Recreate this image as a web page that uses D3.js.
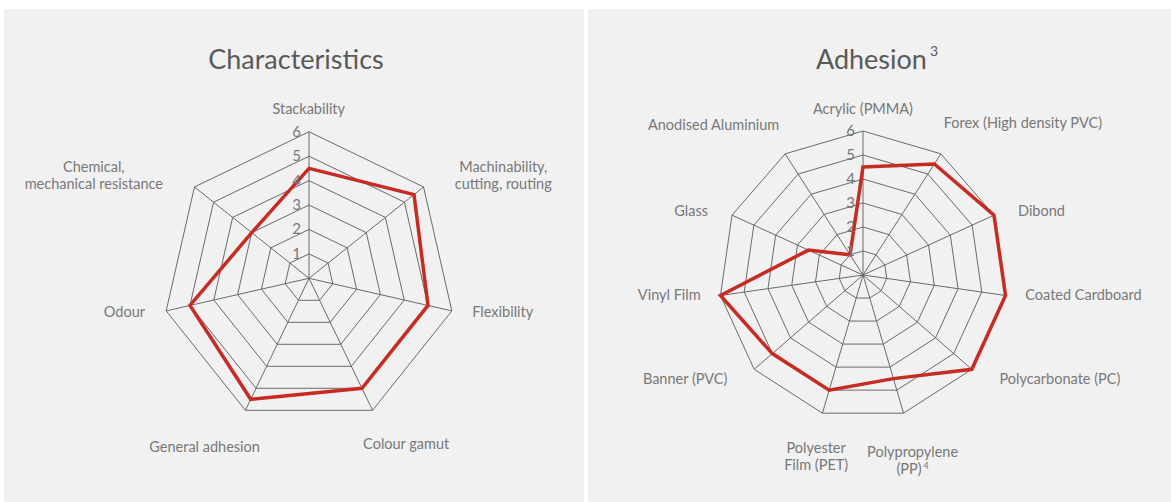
<!DOCTYPE html>
<html>
<head>
<meta charset="utf-8">
<script src="https://cdn.jsdelivr.net/npm/d3@7"></script>
<style>
  html, body { margin: 0; padding: 0; background: #ffffff; }
  svg { display: block; }
  text { font-family: Lato, "Open Sans", sans-serif; font-weight: 400; }
</style>
</head>
<body>
<svg id="chart" width="1171" height="502"></svg>
<script>
// ---------- DATA ----------
const tickValues = [1, 2, 3, 4, 5, 6];

const charTitle = "Characteristics";
const charCategories = [
  "Stackability",
  "Machinability,\ncutting, routing",
  "Flexibility",
  "Colour gamut",
  "General adhesion",
  "Odour",
  "Chemical,\nmechanical resistance"
];
const charValues = [4.5, 5.5, 5, 5, 5.5, 5, 3];

const adhTitle = "Adhesion";
const adhTitleSup = "3";
const adhCategories = [
  "Acrylic (PMMA)",
  "Forex (High density PVC)",
  "Dibond",
  "Coated Cardboard",
  "Polycarbonate (PC)",
  "Polypropylene\n(PP)^4",
  "Polyester\nFilm (PET)",
  "Banner (PVC)",
  "Vinyl Film",
  "Glass",
  "Anodised Aluminium"
];
const adhValues = [4.5, 5.5, 6, 6, 6, 4.5, 5, 5, 6, 2.5, 1];

// ---------- LAYOUT (not data) ----------
const charLabelNudge = [[0, -1], [14, 1.5], [-1, -4.5], [-19, 13.4], [24, 16], [1, -4], [-14, 1.5]];
const adhLabelNudge = [[0, -1], [-9, -13], [4, 4], [-2, -4], [11, -5], [3, 26], [0, 22], [-10, -5], [2, -4], [-4, 4], [6, -11]];

const svg = d3.select("#chart");
const GRID = "#6a6a6a", RED = "#c62b24", TXT = "#787878", TITLE = "#5a5a5a";

// panels
svg.append("rect").attr("x", 4).attr("y", 9).attr("width", 580).attr("height", 493).attr("fill", "#f1f1f1");
svg.append("rect").attr("x", 588).attr("y", 9).attr("width", 583).attr("height", 493).attr("fill", "#f1f1f1");

function drawRadar(cfg) {
  const g = svg.append("g");
  const n = cfg.categories.length;
  const r = d3.scaleLinear().domain([0, 6]).range([0, cfg.radius]);
  const ang = d3.scaleLinear().domain([0, n]).range([0, 2 * Math.PI]);
  const idx = d3.range(n);

  // title
  const t = g.append("text")
    .attr("x", cfg.titleX).attr("y", 58)
    .attr("text-anchor", "middle").attr("dominant-baseline", "central")
    .attr("fill", TITLE).style("font-size", "27px")
    .text(cfg.title);
  if (cfg.titleSup) {
    t.append("tspan").attr("dx", 3).attr("dy", -8).style("font-size", "14px").text(cfg.titleSup);
  }

  // rings
  const ring = d3.lineRadial()
    .angle((d, i) => ang(i))
    .radius(d => r(d))
    .curve(d3.curveLinearClosed);
  const grid = g.append("g").attr("transform", `translate(${cfg.cx},${cfg.cy})`);
  tickValues.forEach(tv => {
    grid.append("path")
      .attr("d", ring(idx.map(() => tv)))
      .attr("fill", "none").attr("stroke", GRID).attr("stroke-width", 1);
  });
  // spokes
  grid.selectAll("line.spoke").data(idx).join("line")
    .attr("x1", 0).attr("y1", 0)
    .attr("x2", i => r(6) * Math.sin(ang(i)))
    .attr("y2", i => -r(6) * Math.cos(ang(i)))
    .attr("stroke", GRID).attr("stroke-width", 1);

  // tick labels
  g.selectAll("text.tick").data(tickValues).join("text")
    .attr("x", cfg.cx - 8)
    .attr("y", d => cfg.cy - r(d) - 1)
    .attr("text-anchor", "end").attr("dominant-baseline", "central")
    .attr("fill", TXT).style("font-size", "15px")
    .text(d => d);

  // data polygon
  grid.append("path")
    .attr("d", ring(cfg.values))
    .attr("fill", "none").attr("stroke", RED).attr("stroke-width", 3.5)
    .attr("stroke-linejoin", "miter");

  // category labels
  const D = cfg.radius + 22;
  cfg.categories.forEach((cat, i) => {
    const dx = Math.sin(ang(i)), dy = -Math.cos(ang(i));
    const ax = cfg.cx + D * dx, ay = cfg.cy + D * dy;
    const txt = g.append("text").attr("text-anchor", "middle")
      .attr("fill", TXT).style("font-size", "14.5px");
    cat.split("\n").forEach((ln, k) => {
      const parts = ln.split("^");
      txt.append("tspan").attr("x", 0).attr("y", k * 17).text(parts[0]);
      if (parts[1]) {
        txt.append("tspan").attr("dx", 2).attr("dy", -5).style("font-size", "9px").text(parts[1]);
      }
    });
    const bb = txt.node().getBBox();
    let cxBox;
    if (dx > 0.3) cxBox = ax + bb.width / 2;
    else if (dx < -0.3) cxBox = ax - bb.width / 2;
    else cxBox = ax;
    const nd = cfg.nudge[i];
    const tx = cxBox - (bb.x + bb.width / 2) + nd[0];
    const ty = ay - (bb.y + bb.height / 2) + nd[1];
    txt.attr("transform", `translate(${tx},${ty})`);
  });
}

drawRadar({
  title: charTitle, titleX: 296,
  categories: charCategories, values: charValues,
  cx: 309, cy: 278.3, radius: 146.5, nudge: charLabelNudge
});
drawRadar({
  title: adhTitle, titleSup: adhTitleSup, titleX: 877,
  categories: adhCategories, values: adhValues,
  cx: 863, cy: 275, radius: 144, nudge: adhLabelNudge
});
</script>
</body>
</html>
